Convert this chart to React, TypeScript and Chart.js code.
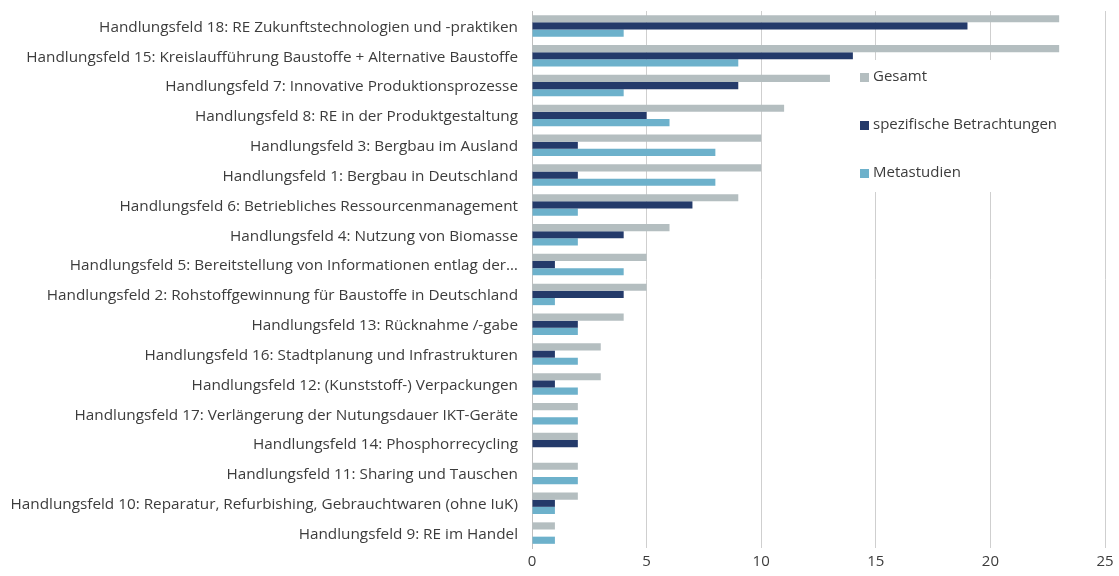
import React, { useEffect, useRef } from "react";
import { Chart, registerables } from "chart.js";

Chart.register(...registerables);

const categories = [
  "Handlungsfeld 18: RE Zukunftstechnologien und -praktiken",
  "Handlungsfeld 15: Kreislaufführung Baustoffe + Alternative Baustoffe",
  "Handlungsfeld 7: Innovative Produktionsprozesse",
  "Handlungsfeld 8: RE in der Produktgestaltung",
  "Handlungsfeld 3: Bergbau im Ausland",
  "Handlungsfeld 1: Bergbau in Deutschland",
  "Handlungsfeld 6: Betriebliches Ressourcenmanagement",
  "Handlungsfeld 4: Nutzung von Biomasse",
  "Handlungsfeld 5: Bereitstellung von Informationen entlag der…",
  "Handlungsfeld 2: Rohstoffgewinnung für Baustoffe in Deutschland",
  "Handlungsfeld 13: Rücknahme /-gabe",
  "Handlungsfeld 16: Stadtplanung und Infrastrukturen",
  "Handlungsfeld 12: (Kunststoff-) Verpackungen",
  "Handlungsfeld 17: Verlängerung der Nutungsdauer IKT-Geräte",
  "Handlungsfeld 14: Phosphorrecycling",
  "Handlungsfeld 11: Sharing und Tauschen",
  "Handlungsfeld 10: Reparatur, Refurbishing, Gebrauchtwaren (ohne IuK)",
  "Handlungsfeld 9: RE im Handel",
];

const gesamt = [23, 23, 13, 11, 10, 10, 9, 6, 5, 5, 4, 3, 3, 2, 2, 2, 2, 1];
const spezifisch = [19, 14, 9, 5, 2, 2, 7, 4, 1, 4, 2, 1, 1, 0, 2, 0, 1, 0];
const meta = [4, 9, 4, 6, 8, 8, 2, 2, 4, 1, 2, 2, 2, 2, 0, 2, 1, 1];

const seriesNames = ["Gesamt", "spezifische Betrachtungen", "Metastudien"];
const seriesColors = ["#b4bec0", "#243a6a", "#6db1cb"];
const xTicks = [0, 5, 10, 15, 20, 25];

const FONT = "'Open Sans', 'Noto Sans', sans-serif";
const TEXT = "#3c3c3c";

const legendPlugin = {
  id: "customLegend",
  afterDatasetsDraw(chart: any) {
    const ctx = chart.ctx;
    ctx.save();
    ctx.fillStyle = "#ffffff";
    ctx.fillRect(852, 60, 240, 132);
    const ys = [77, 125, 173];
    ctx.font = `15px ${FONT}`;
    ctx.textBaseline = "middle";
    seriesNames.forEach((n, i) => {
      ctx.fillStyle = seriesColors[i];
      ctx.fillRect(860, ys[i] - 4, 9, 9);
      ctx.fillStyle = TEXT;
      ctx.fillText(n, 873, ys[i]);
    });
    ctx.restore();
  },
};

export default function App() {
  const ref = useRef<HTMLCanvasElement>(null);
  useEffect(() => {
    document.body.style.margin = "0";
    const chart = new Chart(ref.current!, {
      type: "bar",
      data: {
        labels: categories,
        datasets: [gesamt, spezifisch, meta].map((d, i) => ({
          label: seriesNames[i],
          data: d,
          backgroundColor: seriesColors[i],
          borderWidth: 0,
          categoryPercentage: 0.72,
          barPercentage: 1.0,
        })),
      },
      options: {
        indexAxis: "y",
        responsive: false,
        animation: false,
        layout: { padding: { top: 11, right: 14, bottom: 0, left: 0 } },
        plugins: { legend: { display: false }, tooltip: { enabled: false } },
        scales: {
          x: {
            min: 0,
            max: 25,
            afterBuildTicks: (s: any) => {
              s.ticks = xTicks.map((v) => ({ value: v }));
            },
            grid: { color: "#cfcfcf", drawTicks: false, lineWidth: 1 },
            border: { display: false },
            ticks: { font: { family: FONT, size: 15 }, color: TEXT, padding: 5 },
            afterFit: (s: any) => {
              s.height = 28;
            },
          },
          y: {
            grid: { display: false, drawTicks: false },
            border: { display: true, color: "#bfbfbf" },
            ticks: {
              font: { family: FONT, size: 15.3 },
              color: TEXT,
              padding: 14,
              autoSkip: false,
              labelOffset: 1.5,
            },
            afterFit: (s: any) => {
              s.width = 532;
              s.paddingTop = 0;
              s.paddingBottom = 0;
            },
          },
        },
      },
      plugins: [legendPlugin],
    });
    return () => chart.destroy();
  }, []);
  return (
    <div style={{ width: 1119, height: 576 }}>
      <canvas ref={ref} width={1119} height={576} />
    </div>
  );
}
